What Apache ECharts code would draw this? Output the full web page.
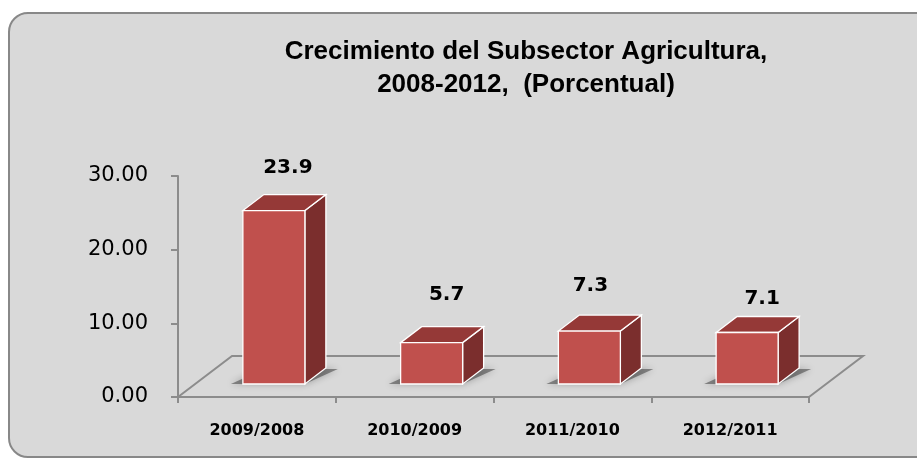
<!DOCTYPE html>
<html>
<head>
<meta charset="utf-8">
<script src="https://cdn.jsdelivr.net/npm/echarts@6/dist/echarts.min.js"></script>
<style>
	html, body {
		margin: 0;
		padding: 0;
		background: #fff;
		overflow: hidden;
	}
	#frame {
		position: absolute;
		left: 8px;
		top: 12px;
		width: 940px;
		height: 446px;
		box-sizing: border-box;
		background: #d9d9d9;
		border: 2px solid #888;
		border-radius: 20px;
	}
	#main {
		position: absolute;
		left: 0;
		top: 0;
		width: 917px;
		height: 458px;
	}
</style>
</head>
<body>
<div id="frame"></div>
<div id="main"></div>
<script>
	// datos
	var categories = ['2009/2008', '2010/2009', '2011/2010', '2012/2011'];
	var growth = [23.9, 5.7, 7.3, 7.1];
	var yMin = 0, yMax = 30, yStep = 10;

	// desplazamiento de cada etiqueta (x, y) desde el centro superior de la cara frontal
	var labelShift = [[14, -43], [15, -48], [1, -45], [15, -34]];

	var floorDepth = [54, -41]; // profundidad del piso
	var barOffset = [17, -13];  // la barra se apoya dentro del piso
	var barDepth = [21, -16];

	var gray = '#8c8c8c';

	function renderFloor(params, api) {
		var cs = params.coordSys;
		var fl = [cs.x, cs.y + cs.height];
		var fr = [cs.x + cs.width, cs.y + cs.height];
		return {
			type: 'polyline',
			shape: {
				points: [fl, [fl[0] + floorDepth[0], fl[1] + floorDepth[1]],
					[fr[0] + floorDepth[0], fr[1] + floorDepth[1]], fr]
			},
			style: { stroke: gray, lineWidth: 2, fill: null }
		};
	}

	function renderBar(params, api) {
		var i = api.value(0);
		var v = api.value(1);
		var base = api.coord([i, 0]);
		var top = api.coord([i, v]);
		var band = api.size([1, 0])[0];
		var w = band * 0.393;
		var x0 = base[0] - w / 2 + barOffset[0];
		var x1 = x0 + w;
		var yb = base[1] + barOffset[1];
		var yt = yb - (base[1] - top[1]) * 0.985;
		var dx = barDepth[0], dy = barDepth[1];
		var edge = { stroke: '#fff', lineWidth: 1.3 };
		var sh = labelShift[params.dataIndex];
		return {
			type: 'group',
			children: [{
				type: 'polygon',
				shape: { points: [[x0 - 12, yb], [x1, yb], [x1 + dx + 12, yb + dy + 1], [x0 + dx, yb + dy + 1]] },
				style: { fill: 'rgba(50,50,50,0.5)', shadowBlur: 7, shadowColor: 'rgba(0,0,0,0.55)' }
			}, {
				type: 'polygon',
				shape: { points: [[x1, yt], [x1 + dx, yt + dy], [x1 + dx, yb + dy], [x1, yb]] },
				style: Object.assign({ fill: '#7b2e2d' }, edge)
			}, {
				type: 'polygon',
				shape: { points: [[x0, yt], [x1, yt], [x1 + dx, yt + dy], [x0 + dx, yt + dy]] },
				style: Object.assign({ fill: '#953937' }, edge)
			}, {
				type: 'rect',
				shape: { x: x0, y: yt, width: w, height: yb - yt },
				style: Object.assign({ fill: '#c0504d' }, edge)
			}, {
				type: 'text',
				x: (x0 + x1) / 2 + sh[0],
				y: yt + sh[1],
				style: {
					text: v.toFixed(1),
					fill: '#000',
					font: 'bold 20px "DejaVu Sans"',
					align: 'center',
					verticalAlign: 'middle'
				}
			}]
		};
	}

	var chart = echarts.init(document.getElementById('main'));
	chart.setOption({
		animation: false,
		backgroundColor: 'transparent',
		graphic: [{
			type: 'text',
			x: 526,
			y: 35,
			style: {
				text: 'Crecimiento del Subsector Agricultura,\n2008-2012,  (Porcentual)',
				fill: '#000',
				font: 'bold 26px "Liberation Sans"',
				lineHeight: 33,
				align: 'center',
				verticalAlign: 'top'
			}
		}],
		grid: {
			left: 178,
			right: 108,
			top: 176,
			bottom: 61,
			containLabel: false
		},
		xAxis: {
			type: 'category',
			data: categories,
			axisLine: { lineStyle: { color: gray, width: 2 } },
			axisTick: { show: true, interval: 0, length: 6, lineStyle: { color: gray, width: 2 } },
			axisLabel: {
				interval: 0,
				margin: 26,
				color: '#000',
				fontFamily: 'DejaVu Sans',
				fontWeight: 'bold',
				fontSize: 16
			},
			splitLine: { show: false }
		},
		yAxis: {
			type: 'value',
			min: yMin,
			max: yMax,
			interval: yStep,
			axisLine: { show: true, lineStyle: { color: gray, width: 2 } },
			axisTick: { show: true, length: 7, lineStyle: { color: gray, width: 2 } },
			axisLabel: {
				margin: 30,
				color: '#000',
				fontFamily: 'DejaVu Sans',
				fontSize: 21,
				formatter: function (val) { return val.toFixed(2); }
			},
			splitLine: { show: false }
		},
		series: [{
			type: 'custom',
			renderItem: renderFloor,
			data: [[0, 0]],
			silent: true,
			z: 1
		}, {
			type: 'custom',
			renderItem: renderBar,
			encode: { x: 0, y: 1 },
			data: categories.map(function (c, i) { return [i, growth[i]]; }),
			z: 3
		}]
	});
</script>
</body>
</html>
